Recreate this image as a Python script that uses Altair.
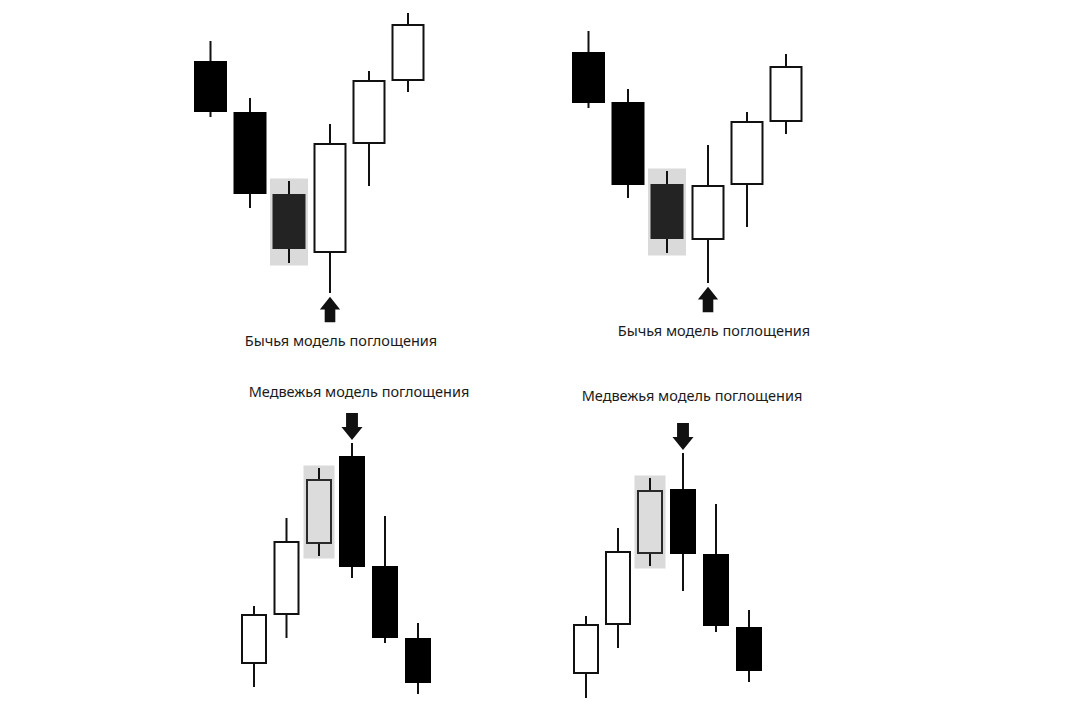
import altair as alt
import pandas as pd

# ---------------- data (price units: higher value = higher on the sheet) ----------------
PANELS = ["bull_a", "bull_b", "bear_a", "bear_b"]

# candle time slots per panel
bull_a_t = [210.5, 250, 289, 330, 369, 408]
bull_b_t = [588.5, 628, 667, 708, 747, 786]
bear_a_t = [254, 286.5, 319, 352, 385, 418]
bear_b_t = [586, 618, 650, 683, 716, 749]

bull_a_open = [659, 608, 526, 467, 576, 639]
bull_a_close = [608, 526, 471, 577, 640, 696]
bull_a_high = [679, 622, 539, 596, 649, 707]
bull_a_low = [603, 512, 457, 427, 534, 628]

bull_b_open = [668, 618, 536, 480, 535, 598]
bull_b_close = [617, 535, 481, 535, 599, 654]
bull_b_high = [689, 631, 549, 575, 608, 666]
bull_b_low = [612, 522, 467, 437, 493, 586]

bear_a_open = [56, 105, 176, 264, 154, 82]
bear_a_close = [106, 179, 241, 153, 82, 37]
bear_a_high = [114, 202, 252, 277, 204, 97]
bear_a_low = [33, 82, 164, 142, 77, 26]

bear_b_open = [46, 95, 166, 231, 166, 93]
bear_b_close = [96, 169, 230, 166, 94, 49]
bear_b_high = [104, 192, 242, 267, 216, 110]
bear_b_low = [22, 72, 154, 129, 88, 38]

labels = {
    "bull_a": "Бычья модель поглощения",
    "bull_b": "Бычья модель поглощения",
    "bear_a": "Медвежья модель поглощения",
    "bear_b": "Медвежья модель поглощения",
}
highlight_idx = 2   # candle engulfed (shaded)
signal_idx = 3      # engulfing candle (arrow)

# ---------------- layout / style constants ----------------
BODY_W = {"bull_a": 31, "bull_b": 31, "bear_a": 24, "bear_b": 24}
BOX_PAD = 2.5
ARROW_GAP = 16.5
LABEL_OFF = {"bull_a": (11, -32.5), "bull_b": (6, -32), "bear_a": (7, 33.5), "bear_b": (9, 39.5)}

series = {
    "bull_a": (bull_a_t, bull_a_open, bull_a_close, bull_a_high, bull_a_low),
    "bull_b": (bull_b_t, bull_b_open, bull_b_close, bull_b_high, bull_b_low),
    "bear_a": (bear_a_t, bear_a_open, bear_a_close, bear_a_high, bear_a_low),
    "bear_b": (bear_b_t, bear_b_open, bear_b_close, bear_b_high, bear_b_low),
}

rows, boxes, arrows_up, arrows_dn, texts = [], [], [], [], []
for p in PANELS:
    t, o, c, h, l = series[p]
    hw = BODY_W[p] / 2
    for i in range(len(t)):
        up = c[i] > o[i]
        if i == highlight_idx:
            fill = "#dcdcdc" if up else "#232323"
            stroke = "#2a2a2a" if up else "#232323"
        else:
            fill = "#ffffff" if up else "#000000"
            stroke = "#111111" if up else "#000000"
        rows.append(dict(panel=p, t=t[i], t0=t[i] - hw, t1=t[i] + hw,
                         top=max(o[i], c[i]) - 1, bot=min(o[i], c[i]) + 1,
                         high=h[i], low=l[i], fill=fill, stroke=stroke))
    j = highlight_idx
    boxes.append(dict(panel=p, t0=t[j] - hw - 1 - BOX_PAD, t1=t[j] + hw + 1 + BOX_PAD,
                      top=h[j] + BOX_PAD, bot=l[j] - BOX_PAD))
    k = signal_idx
    dx, dy = LABEL_OFF[p]
    if p.startswith("bull"):
        ay = l[k] - ARROW_GAP
        arrows_up.append(dict(panel=p, t=t[k], y=ay))
    else:
        ay = h[k] + ARROW_GAP
        arrows_dn.append(dict(panel=p, t=t[k], y=ay))
    texts.append(dict(panel=p, t=t[k] + dx, y=ay + dy, label=labels[p]))

candles = pd.DataFrame(rows)
box_df = pd.DataFrame(boxes)
up_df = pd.DataFrame(arrows_up)
dn_df = pd.DataFrame(arrows_dn)
txt_df = pd.DataFrame(texts)

xs = alt.Scale(domain=[8, 1076], nice=False, zero=False)
ys = alt.Scale(domain=[8, 712], nice=False, zero=False)

box_layer = alt.Chart(box_df).mark_rect(color="#dadada").encode(
    x=alt.X("t0:Q", scale=xs, axis=None), x2="t1:Q",
    y=alt.Y("top:Q", scale=ys, axis=None), y2="bot:Q",
)

wick_layer = alt.Chart(candles).mark_rule(color="#111111", strokeWidth=2).encode(
    x=alt.X("t:Q", scale=xs, axis=None),
    y=alt.Y("high:Q", scale=ys, axis=None), y2="low:Q",
)

body_layer = alt.Chart(candles).mark_rect(strokeWidth=2).encode(
    x=alt.X("t0:Q", scale=xs, axis=None), x2="t1:Q",
    y=alt.Y("top:Q", scale=ys, axis=None), y2="bot:Q",
    fill=alt.Fill("fill:N", scale=None),
    stroke=alt.Stroke("stroke:N", scale=None),
)

UP_PATH = "M0,-1 L0.8,0 L0.42,0 L0.42,1 L-0.42,1 L-0.42,0 L-0.8,0 Z"
DN_PATH = "M0,1 L0.78,0.04 L0.44,0.04 L0.44,-1 L-0.44,-1 L-0.44,0.04 L-0.78,0.04 Z"

up_layer = alt.Chart(up_df).mark_point(shape=UP_PATH, filled=True, opacity=1,
                                        color="#111111", size=640, strokeWidth=0).encode(
    x=alt.X("t:Q", scale=xs, axis=None),
    y=alt.Y("y:Q", scale=ys, axis=None),
)
dn_layer = alt.Chart(dn_df).mark_point(shape=DN_PATH, filled=True, opacity=1,
                                        color="#111111", size=729, strokeWidth=0).encode(
    x=alt.X("t:Q", scale=xs, axis=None),
    y=alt.Y("y:Q", scale=ys, axis=None),
)

text_layer = alt.Chart(txt_df).mark_text(font="Noto Sans", fontSize=14.5, color="#1a1a1a",
                                         align="center", baseline="middle").encode(
    x=alt.X("t:Q", scale=xs, axis=None),
    y=alt.Y("y:Q", scale=ys, axis=None),
    text="label:N",
)

chart = alt.layer(box_layer, wick_layer, body_layer, up_layer, dn_layer, text_layer).properties(
    width=1068, height=704, padding=0,
    autosize=alt.AutoSizeParams(type="fit", contains="padding"),
    background="#ffffff",
).configure_view(strokeWidth=0)

chart.save("out.html", embed_options={"renderer": "svg", "actions": False})
